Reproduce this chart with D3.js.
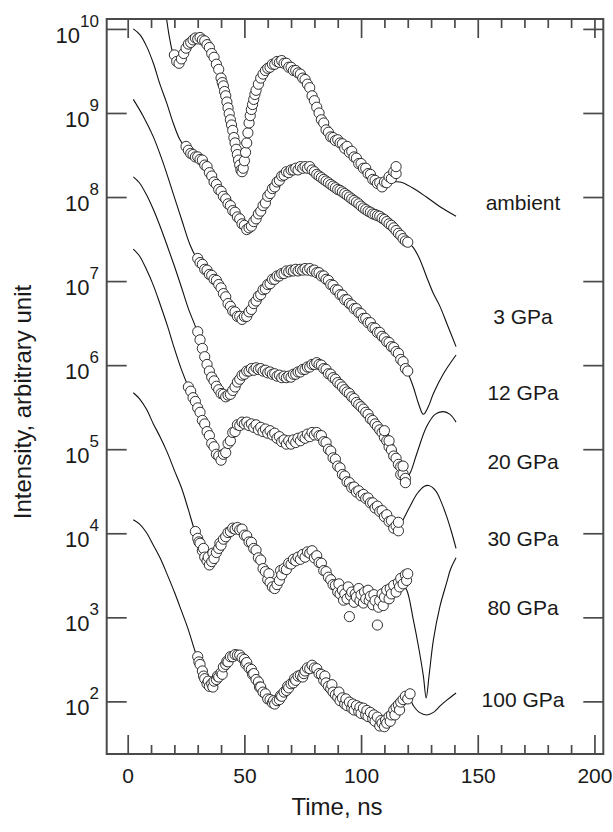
<!DOCTYPE html>
<html>
<head>
<meta charset="utf-8">
<script src="https://cdn.jsdelivr.net/npm/d3@7"></script>
<style>
body { margin: 0; background: #fff; }
text { font-family: "Liberation Sans", Arial, Helvetica, sans-serif; }
</style>
</head>
<body>
<div id="chart"></div>
<script>
// tick values and labels
var xMajorTicks = [0, 50, 100, 150, 200];
var xMinorTicks = [10, 20, 30, 40, 60, 70, 80, 90, 110, 120, 130, 140, 160, 170, 180, 190];
var yTicks = [1e2, 1e3, 1e4, 1e5, 1e6, 1e7, 1e8, 1e9, 1e10];
var seriesNames = ["ambient", "3 GPa", "12 GPa", "20 GPa", "30 GPa", "80 GPa", "100 GPa"];
var labelLevels = [8.7e7, 3.8e6, 4.7e5, 7.1e4, 8.7e3, 1.3e3, 105];
var labelTime = 169.4;

// measured spectra: [time ns, intensity]
var ambientData = [[20,4.9e9],[21,4.1e9],[22,3.9e9],[23,4.4e9],[24,5.1e9],[25,5.9e9],[26,6.6e9],[27,6.9e9],[28,7.4e9],[29,7.8e9],[30,7.6e9],[31,7.9e9],[32,7.4e9],[33,7.2e9],[34,6.5e9],[35,6.0e9],[36,5.1e9],[37,4.6e9],[38,3.8e9],[39,3.3e9],[40,2.6e9],[40.5,2.3e9],[41,2.1e9],[41.5,1.8e9],[42,1.6e9],[42.5,1.35e9],[43,1.15e9],[43.5,9.8e8],[44,8.3e8],[44.5,7.2e8],[45,6.2e8],[45.5,5.1e8],[46,4.4e8],[46.5,3.7e8],[47,3.2e8],[47.5,2.75e8],[48,2.4e8],[48.5,2.1e8],[49,2.0e8],[49.5,2.2e8],[50,2.7e8],[50.5,3.4e8],[51,4.4e8],[51.5,5.8e8],[52,7.6e8],[52.5,9.3e8],[53,1.1e9],[53.5,1.26e9],[54,1.45e9],[54.5,1.66e9],[55,1.86e9],[56,2.2e9],[57,2.6e9],[58,2.9e9],[59,3.2e9],[60,3.4e9],[61,3.5e9],[62,3.8e9],[63,3.8e9],[64,4.1e9],[65,4.0e9],[66,4.2e9],[67,3.9e9],[68,3.9e9],[69,3.5e9],[70,3.5e9],[71,3.2e9],[72,3.2e9],[73,3.0e9],[74,2.9e9],[75,2.6e9],[76,2.5e9],[77,2.2e9],[78,2.0e9],[79,1.6e9],[80,1.4e9],[81,1.17e9],[82,1.0e9],[83,8.3e8],[84,7.6e8],[85,6.3e8],[86,5.9e8],[87,5.2e8],[88,5.1e8],[89,4.7e8],[90,4.8e8],[91,4.4e8],[92,4.3e8],[93,3.8e8],[94,4.0e8],[95,3.4e8],[96,3.5e8],[97,3.0e8],[98,2.9e8],[99,2.5e8],[100,2.5e8],[101,2.2e8],[102,2.2e8],[103,1.9e8],[104,1.86e8],[105,1.62e8],[106,1.58e8],[107,1.45e8],[108,1.48e8],[109,1.32e8],[110,1.51e8],[111,1.48e8],[112,1.74e8],[113,1.66e8],[114,2.0e8],[115,1.9e8],[115,2.3e8]];
var gpa3Data = [[25,4.0e8],[26,3.6e8],[27,3.3e8],[28,3.2e8],[29,3.0e8],[30,3.0e8],[31,2.8e8],[32,2.75e8],[33,2.4e8],[34,2.3e8],[35,1.95e8],[36,1.78e8],[37,1.51e8],[38,1.41e8],[39,1.23e8],[40,1.17e8],[41,1.02e8],[42,9.5e7],[43,8.3e7],[44,7.9e7],[45,6.9e7],[46,6.6e7],[47,5.8e7],[48,5.5e7],[49,4.8e7],[50,4.6e7],[51,4.1e7],[52,4.3e7],[53,4.5e7],[54,5.1e7],[55,5.5e7],[56,6.3e7],[57,6.8e7],[58,7.9e7],[59,8.5e7],[60,1.02e8],[61,1.1e8],[62,1.26e8],[63,1.32e8],[64,1.51e8],[65,1.58e8],[66,1.78e8],[67,1.82e8],[68,2.0e8],[69,1.95e8],[70,2.1e8],[71,2.1e8],[72,2.2e8],[73,2.1e8],[74,2.3e8],[75,2.2e8],[76,2.3e8],[77,2.2e8],[78,2.3e8],[79,2.1e8],[80,2.0e8],[81,1.86e8],[82,1.78e8],[83,1.7e8],[84,1.62e8],[85,1.55e8],[86,1.48e8],[87,1.41e8],[88,1.35e8],[89,1.29e8],[90,1.23e8],[91,1.2e8],[92,1.15e8],[93,1.1e8],[94,1.05e8],[95,1.0e8],[96,9.5e7],[97,9.1e7],[98,8.7e7],[99,8.3e7],[100,7.8e7],[101,7.4e7],[102,7.1e7],[103,6.8e7],[104,6.6e7],[105,6.3e7],[106,6.2e7],[107,6.0e7],[108,5.9e7],[109,5.6e7],[110,5.4e7],[111,5.1e7],[112,4.8e7],[113,4.6e7],[114,4.3e7],[115,4.0e7],[116,3.7e7],[117,3.5e7],[118,3.2e7],[119,3.0e7],[120,2.9e7]];
var gpa12Data = [[30,1.86e7],[31,1.66e7],[32,1.58e7],[33,1.38e7],[34,1.35e7],[35,1.2e7],[36,1.17e7],[37,1.05e7],[38,1.02e7],[39,9.1e6],[40,8.3e6],[41,7.1e6],[42,6.5e6],[43,5.4e6],[44,5.0e6],[45,4.4e6],[46,4.3e6],[47,3.8e6],[48,3.8e6],[49,3.5e6],[50,3.8e6],[51,3.8e6],[52,4.3e6],[53,4.6e6],[54,5.4e6],[55,5.8e6],[56,6.6e6],[57,6.9e6],[58,7.9e6],[59,8.1e6],[60,9.1e6],[61,9.3e6],[62,1.05e7],[63,1.05e7],[64,1.15e7],[65,1.15e7],[66,1.23e7],[67,1.23e7],[68,1.32e7],[69,1.29e7],[70,1.35e7],[71,1.32e7],[72,1.38e7],[73,1.32e7],[74,1.38e7],[75,1.35e7],[76,1.41e7],[77,1.35e7],[78,1.41e7],[79,1.32e7],[80,1.35e7],[81,1.26e7],[82,1.26e7],[83,1.15e7],[84,1.15e7],[85,1.05e7],[86,1.02e7],[87,9.1e6],[88,8.9e6],[89,7.9e6],[90,7.8e6],[91,6.9e6],[92,6.8e6],[93,6.0e6],[94,6.0e6],[95,5.4e6],[96,5.2e6],[97,4.7e6],[98,4.7e6],[99,4.2e6],[100,4.1e6],[101,3.6e6],[102,3.6e6],[103,3.2e6],[104,3.2e6],[105,2.8e6],[106,2.75e6],[107,2.45e6],[108,2.45e6],[109,2.2e6],[110,2.1e6],[111,1.9e6],[112,1.86e6],[113,1.66e6],[114,1.62e6],[115,1.45e6],[116,1.38e6],[117,1.17e6],[118,1.1e6],[119,9.1e5],[120,8.5e5]];
var gpa20Data = [[30,2.5e6],[31,2.0e6],[32,1.58e6],[33,1.26e6],[34,1.02e6],[35,8.5e5],[36,7.2e5],[37,6.5e5],[38,5.6e5],[39,5.1e5],[40,4.6e5],[41,4.5e5],[42,4.2e5],[43,4.4e5],[44,4.5e5],[45,5.0e5],[46,5.5e5],[47,6.3e5],[48,6.8e5],[49,7.6e5],[50,7.8e5],[51,8.5e5],[52,8.5e5],[53,9.1e5],[54,8.7e5],[55,9.3e5],[56,8.9e5],[57,9.1e5],[58,8.5e5],[59,8.7e5],[60,8.1e5],[61,8.3e5],[62,7.8e5],[63,7.9e5],[64,7.4e5],[65,7.6e5],[66,7.1e5],[67,7.4e5],[68,7.1e5],[69,7.4e5],[70,7.2e5],[71,7.8e5],[72,7.8e5],[73,8.3e5],[74,8.3e5],[75,8.9e5],[76,8.9e5],[77,9.5e5],[78,9.5e5],[79,1.02e6],[80,1.02e6],[81,1.07e6],[82,1.02e6],[83,1.0e6],[84,9.1e5],[85,8.9e5],[86,7.9e5],[87,7.8e5],[88,7.1e5],[89,6.8e5],[90,6.2e5],[91,5.9e5],[92,5.5e5],[93,5.1e5],[94,4.8e5],[95,4.6e5],[96,4.2e5],[97,4.0e5],[98,3.6e5],[99,3.4e5],[100,3.2e5],[101,3.0e5],[102,2.75e5],[103,2.6e5],[104,2.3e5],[105,2.2e5],[106,2.0e5],[107,1.86e5],[108,1.7e5],[109,1.58e5],[110,1.38e5],[110,1.66e5],[111,1.26e5],[112,1.07e5],[112,1.26e5],[113,9.8e4],[114,8.3e4],[115,7.8e4],[116,6.6e4],[117,6.2e4],[117,5.0e4],[118,5.1e4],[118,6.3e4],[119,4.5e4],[119,4.0e4]];
var gpa30Data = [[26,5.5e5],[27,4.9e5],[28,4.1e5],[29,3.7e5],[30,3.1e5],[31,2.75e5],[32,2.2e5],[33,2.0e5],[34,1.62e5],[35,1.45e5],[36,1.17e5],[37,1.07e5],[38,8.7e4],[39,8.3e4],[40,7.4e4],[41,8.7e4],[42,9.1e4],[43,1.17e5],[44,1.26e5],[45,1.58e5],[46,1.62e5],[47,1.95e5],[48,1.91e5],[49,2.1e5],[50,2.0e5],[51,2.1e5],[52,1.91e5],[53,2.0e5],[54,1.82e5],[55,1.95e5],[56,1.7e5],[57,1.82e5],[58,1.62e5],[59,1.74e5],[60,1.55e5],[61,1.66e5],[62,1.48e5],[63,1.55e5],[64,1.35e5],[65,1.41e5],[66,1.23e5],[67,1.29e5],[68,1.15e5],[69,1.26e5],[70,1.15e5],[71,1.29e5],[72,1.2e5],[73,1.35e5],[74,1.26e5],[75,1.41e5],[76,1.35e5],[77,1.51e5],[78,1.41e5],[79,1.58e5],[80,1.48e5],[81,1.58e5],[82,1.45e5],[83,1.45e5],[84,1.23e5],[85,1.2e5],[86,1.0e5],[87,9.5e4],[88,7.9e4],[89,7.6e4],[90,6.3e4],[91,6.0e4],[92,5.0e4],[93,4.8e4],[94,4.1e4],[95,4.0e4],[96,3.5e4],[97,3.55e4],[98,3.1e4],[99,3.2e4],[100,2.8e4],[101,2.9e4],[102,2.6e4],[103,2.63e4],[104,2.3e4],[105,2.3e4],[106,2.0e4],[107,2.1e4],[108,1.82e4],[109,1.86e4],[110,1.58e4],[111,1.66e4],[112,1.38e4],[113,1.41e4],[114,1.15e4],[115,1.23e4],[116,1.07e4],[116,1.35e4]];
var gpa80Data = [[29,1.05e4],[30,8.7e3],[30.5,7.9e3],[31,7.6e3],[32,6.2e3],[32.5,6.6e3],[33,5.2e3],[34,4.7e3],[34.5,5.2e3],[35,4.2e3],[36,4.6e3],[36.5,5.8e3],[37,5.0e3],[38,5.9e3],[39,6.6e3],[39.5,7.6e3],[40,7.2e3],[41,8.5e3],[42,9.1e3],[43,1.02e4],[44,1.05e4],[45,1.15e4],[46,1.12e4],[47,1.17e4],[48,1.1e4],[49,1.12e4],[50,9.5e3],[51,9.3e3],[52,7.9e3],[53,7.8e3],[54,6.6e3],[55,6.3e3],[56,5.1e3],[57,4.8e3],[58,3.8e3],[59,3.5e3],[60,2.8e3],[60.5,3.3e3],[61,2.6e3],[62,2.3e3],[63,2.2e3],[64,2.45e3],[65,2.75e3],[65.5,3.6e3],[66,3.2e3],[67,3.8e3],[68,3.7e3],[69,4.4e3],[70,4.3e3],[71,4.9e3],[72,4.7e3],[73,5.2e3],[74,4.9e3],[75,5.6e3],[76,5.2e3],[77,6.0e3],[78,5.8e3],[79,6.2e3],[80,5.1e3],[81,5.4e3],[82,4.5e3],[83,4.4e3],[84,3.6e3],[85,3.5e3],[86,3.0e3],[87,2.8e3],[88,2.45e3],[89,2.4e3],[90,2.0e3],[90.5,2.5e3],[91,1.9e3],[92,2.1e3],[92.5,1.6e3],[93,1.9e3],[94,1.66e3],[94.5,2.3e3],[95,1.02e3],[95.5,1.82e3],[96,2.0e3],[97,1.51e3],[97.5,1.9e3],[98,1.74e3],[99,2.2e3],[99.5,1.58e3],[100,1.86e3],[101,1.48e3],[101.5,2.0e3],[102,1.66e3],[103,2.1e3],[103.5,1.58e3],[104,1.78e3],[105,1.41e3],[105.5,1.86e3],[106,1.58e3],[107,8.1e2],[107.5,1.32e3],[108,1.58e3],[109,1.9e3],[109.5,1.38e3],[110,1.74e3],[111,2.1e3],[112,1.66e3],[112.5,2.2e3],[113,1.9e3],[114,2.4e3],[115,2.0e3],[116,2.6e3],[116.5,2.3e3],[117,2.9e3],[118,2.5e3],[119,3.2e3],[119.5,2.75e3],[120,3.3e3]];
var gpa100Data = [[30,340],[30.5,295],[31,275],[32,230],[32.5,200],[33,186],[34,162],[34.5,174],[35,151],[36,162],[36.5,148],[37,174],[38,182],[38.5,200],[39,195],[40,219],[40.5,210],[41,257],[42,275],[42.5,300],[43,295],[44,340],[45,340],[46,360],[47,355],[48,355],[49,330],[50,316],[50.5,280],[51,290],[52,250],[53,240],[53.5,210],[54,214],[55,182],[56,170],[56.5,148],[57,148],[58,129],[59,123],[60,107],[61,105],[62,96],[62.5,102],[63,93],[64,102],[65,105],[65.5,117],[66,115],[67,129],[68,135],[68.5,151],[69,145],[70,162],[71,166],[71.5,186],[72,178],[73,200],[74,204],[75,195],[75.5,214],[76,230],[77,250],[78,245],[79,269],[80,250],[81,245],[82,214],[83,209],[84,178],[84.5,200],[85,166],[86,151],[87,141],[87.5,158],[88,129],[89,120],[90,112],[90.5,129],[91,102],[92,110],[93,93],[93.5,107],[94,89],[95,98],[96,83],[96.5,93],[97,79],[98,89],[99,76],[99.5,85],[100,72],[101,83],[102,69],[102.5,78],[103,66],[104,74],[105,62],[105.5,69],[106,58],[107,65],[108,51],[108.5,59],[109,55],[110,50],[110.5,60],[111,55],[112,66],[112.5,58],[113,69],[114,79],[114.5,69],[115,85],[116,91],[116.5,79],[117,98],[118,105],[119,115],[120,107],[121,123]];

// model fits: [time ns, intensity]
var ambientFit = [[16.6,1.35e10],[18,7.6e9],[19.5,5.0e9],[21,4.2e9],[23,4.4e9],[26,6.3e9],[30,7.6e9],[33,6.9e9],[36,5.2e9],[40,2.6e9],[44,8.3e8],[47,3.2e8],[49,2.0e8],[51,4.2e8],[54,1.45e9],[58,2.9e9],[63,3.8e9],[66,4.0e9],[70,3.5e9],[75,2.6e9],[80,1.4e9],[85,6.6e8],[90,4.7e8],[95,3.5e8],[100,2.45e8],[105,1.7e8],[110,1.51e8],[116.7,1.51e8],[122,1.29e8],[128,1.0e8],[134,7.6e7],[140.7,5.9e7]];
var gpa3Fit = [[2.4,1.0e10],[5.3,8.5e9],[8.1,6.2e9],[11,3.9e9],[13.8,2.2e9],[16.7,1.32e9],[19.5,7.6e8],[22.4,4.8e8],[25,3.8e8],[28,3.2e8],[31,2.8e8],[35,1.95e8],[40,1.15e8],[45,7.1e7],[48,5.4e7],[51,4.3e7],[54,5.0e7],[58,7.9e7],[62,1.23e8],[66,1.74e8],[70,2.1e8],[76,2.3e8],[80,2.0e8],[85,1.55e8],[90,1.23e8],[95,9.8e7],[100,7.8e7],[105,6.3e7],[110,5.4e7],[115,4.0e7],[119.6,3.0e7],[122.4,2.5e7],[125,1.86e7],[128.1,1.12e7],[131,7.1e6],[133.8,5.0e6],[137,3.0e6],[140.7,1.66e6]];
var gpa12Fit = [[2.4,1.45e9],[6.7,9.1e8],[11,5.2e8],[15.3,2.5e8],[19.5,1.1e8],[23.1,5.4e7],[26.7,2.7e7],[29.6,1.86e7],[33,1.41e7],[37,1.07e7],[41,7.2e6],[45,4.5e6],[49,3.6e6],[53,4.7e6],[57,7.1e6],[62,1.02e7],[67,1.26e7],[72,1.35e7],[78,1.38e7],[82,1.23e7],[87,9.3e6],[92,6.6e6],[97,4.8e6],[102,3.5e6],[107,2.5e6],[112,1.82e6],[116,1.35e6],[119.6,8.7e5],[122.4,5.5e5],[124.6,3.5e5],[126.7,2.6e5],[128.8,3.2e5],[131,4.6e5],[135.3,7.9e5],[140.7,1.32e6]];
var gpa20Fit = [[2.4,1.74e8],[5,1.48e8],[8,1.07e8],[11,7.1e7],[14,4.4e7],[17,2.6e7],[20,1.51e7],[23,8.5e6],[26,4.7e6],[29.6,2.6e6],[33,1.26e6],[37,6.3e5],[42,4.3e5],[46,5.6e5],[51,8.3e5],[55,9.1e5],[60,8.5e5],[67,7.2e5],[73,8.1e5],[81,1.05e6],[86,8.3e5],[92,5.5e5],[98,3.6e5],[104,2.3e5],[110,1.45e5],[114,8.9e4],[117,6.0e4],[119.5,4.6e4],[121,5.2e4],[123.9,8.9e4],[128.1,1.86e5],[131.7,2.6e5],[135.3,2.8e5],[138.1,2.6e5],[140.7,2.1e5]];
var gpa30Fit = [[2.4,2.4e7],[5,2.0e7],[8,1.38e7],[11,8.9e6],[14,5.2e6],[17,2.95e6],[20,1.58e6],[23,8.9e5],[26,5.5e5],[30,3.1e5],[34,1.62e5],[38,8.7e4],[40,7.9e4],[43,1.12e5],[47,1.86e5],[51,2.0e5],[56,1.78e5],[62,1.51e5],[68,1.2e5],[74,1.32e5],[80,1.51e5],[84,1.26e5],[90,6.3e4],[96,3.5e4],[102,2.6e4],[108,1.86e4],[113,1.32e4],[116,1.15e4],[118,1.45e4],[121,2.1e4],[124,2.95e4],[127,3.6e4],[129,3.7e4],[132,3.2e4],[134.5,2.3e4],[136.7,1.58e4],[138.7,1.05e4],[140.7,6.6e3]];
var gpa80Fit = [[2.4,4.7e5],[5,4.0e5],[8,3.0e5],[11,2.0e5],[14,1.38e5],[17,9.1e4],[20,5.6e4],[23,3.5e4],[26,1.91e4],[28.8,1.05e4],[32,6.2e3],[35,4.3e3],[38,5.9e3],[42,9.3e3],[46,1.15e4],[50,1.0e4],[54,6.8e3],[58,4.0e3],[61,2.6e3],[63,2.3e3],[66,3.2e3],[70,4.5e3],[74,5.1e3],[78,5.9e3],[82,4.7e3],[86,3.0e3],[90,2.1e3],[94,1.82e3],[100,1.78e3],[106,1.66e3],[110,1.82e3],[114,2.2e3],[117.5,2.5e3],[119.6,2.1e3],[122.4,930],[124.6,450],[126.7,200],[127.9,110],[129.2,210],[131,540],[133.8,1.35e3],[136.7,2.6e3],[138.3,3.7e3],[140.7,5.1e3]];
var gpa100Fit = [[2.4,1.45e4],[5,1.29e4],[8,1.02e4],[11,7.2e3],[14,5.0e3],[17,3.2e3],[20,2.0e3],[23,1.2e3],[26,710],[28.8,400],[31,275],[35,155],[39,200],[43,310],[47,355],[51,280],[55,186],[59,120],[63,95],[67,129],[71,170],[75,220],[79,260],[83,200],[87,138],[91,107],[96,87],[101,76],[105,63],[109,54],[113,69],[117,95],[120.5,110],[122.4,89],[125,74],[128.1,69],[131,74],[134,89],[137,105],[140.7,126]];

var series = [
  { data: ambientData, fit: ambientFit },
  { data: gpa3Data, fit: gpa3Fit },
  { data: gpa12Data, fit: gpa12Fit },
  { data: gpa20Data, fit: gpa20Fit },
  { data: gpa30Data, fit: gpa30Fit },
  { data: gpa80Data, fit: gpa80Fit },
  { data: gpa100Data, fit: gpa100Fit }
];

var plotLeft = 106.7, plotRight = 603.3, plotTop = 19, plotBottom = 754;
var axisColor = "#4a4a4a";
var fontFamily = '"Liberation Sans", Arial, Helvetica, sans-serif';

var svg = d3.select("#chart").append("svg")
  .attr("width", 613)
  .attr("height", 832);

var x = d3.scaleLinear().domain([-9, 203.8]).range([plotLeft, plotRight]);
var y = d3.scaleLog().domain([23.66, 1.312e10]).range([plotBottom, plotTop]);

svg.append("clipPath").attr("id", "plotClip")
  .append("rect")
  .attr("x", plotLeft).attr("y", plotTop)
  .attr("width", plotRight - plotLeft).attr("height", plotBottom - plotTop);

var plot = svg.append("g").attr("clip-path", "url(#plotClip)");

var line = d3.line()
  .x(function (d) { return x(d[0]); })
  .y(function (d) { return y(d[1]); })
  .curve(d3.curveCatmullRom.alpha(0.5));

// fit curves
plot.selectAll("path.fit")
  .data(series)
  .enter().append("path")
  .attr("class", "fit")
  .attr("d", function (d) { return line(d.fit); })
  .attr("fill", "none")
  .attr("stroke", "#111")
  .attr("stroke-width", 1.1);

// data points
plot.selectAll("g.points")
  .data(series)
  .enter().append("g")
  .attr("class", "points")
  .selectAll("circle")
  .data(function (d) { return d.data; })
  .enter().append("circle")
  .attr("cx", function (d) { return x(d[0]); })
  .attr("cy", function (d) { return y(d[1]); })
  .attr("r", 5.1)
  .attr("fill", "#fff")
  .attr("stroke", "#1a1a1a")
  .attr("stroke-width", 0.9);

// series labels
svg.selectAll("text.label")
  .data(seriesNames)
  .enter().append("text")
  .attr("class", "label")
  .attr("x", x(labelTime))
  .attr("y", function (d, i) { return y(labelLevels[i]); })
  .attr("dy", "0.36em")
  .attr("text-anchor", "middle")
  .attr("font-size", 21)
  .attr("fill", "#1a1a1a")
  .text(function (d) { return d; });

function styleAxis(g) {
  g.select(".domain").remove();
  g.attr("color", axisColor);
  g.selectAll(".tick line").attr("stroke-width", 1.7);
}

// bottom axis
svg.append("g")
  .attr("transform", "translate(0," + plotBottom + ")")
  .call(d3.axisBottom(x).tickValues(xMinorTicks).tickSize(-9).tickFormat(""))
  .call(styleAxis);
var gxb = svg.append("g")
  .attr("transform", "translate(0," + plotBottom + ")")
  .call(d3.axisBottom(x).tickValues(xMajorTicks).tickSize(-19).tickPadding(14))
  .call(styleAxis);
gxb.selectAll(".tick text")
  .attr("font-size", 21)
  .attr("font-family", fontFamily)
  .attr("fill", "#1a1a1a");

// top axis
svg.append("g")
  .attr("transform", "translate(0," + plotTop + ")")
  .call(d3.axisTop(x).tickValues(xMinorTicks).tickSize(-9).tickFormat(""))
  .call(styleAxis);
svg.append("g")
  .attr("transform", "translate(0," + plotTop + ")")
  .call(d3.axisTop(x).tickValues(xMajorTicks).tickSize(-19).tickFormat(""))
  .call(styleAxis);

// left axis with power-of-ten labels
var gyl = svg.append("g")
  .attr("transform", "translate(" + plotLeft + ",0)")
  .call(d3.axisLeft(y).tickValues(yTicks).tickSize(-20).tickPadding(7.7).tickFormat(""))
  .call(styleAxis);
gyl.selectAll(".tick text").each(function (d) {
  var t = d3.select(this);
  t.text(null)
    .attr("dy", 13.5)
    .attr("font-family", fontFamily)
    .attr("font-size", 22)
    .attr("fill", "#1a1a1a");
  t.append("tspan").text("10");
  t.append("tspan")
    .attr("dy", -16)
    .attr("font-size", 17)
    .text(Math.round(Math.log10(d)));
});

// right axis
svg.append("g")
  .attr("transform", "translate(" + plotRight + ",0)")
  .call(d3.axisRight(y).tickValues(yTicks).tickSize(-20).tickFormat(""))
  .call(styleAxis);

// frame
svg.append("rect")
  .attr("x", plotLeft).attr("y", plotTop)
  .attr("width", plotRight - plotLeft).attr("height", plotBottom - plotTop)
  .attr("fill", "none")
  .attr("stroke", axisColor)
  .attr("stroke-width", 2);

// axis titles
svg.append("text")
  .attr("x", 337)
  .attr("y", 815)
  .attr("text-anchor", "middle")
  .attr("font-size", 24)
  .attr("fill", "#1a1a1a")
  .text("Time, ns");

svg.append("text")
  .attr("transform", "translate(31,402) rotate(-90)")
  .attr("text-anchor", "middle")
  .attr("font-size", 24)
  .attr("fill", "#1a1a1a")
  .text("Intensity, arbitrary unit");
</script>
</body>
</html>
